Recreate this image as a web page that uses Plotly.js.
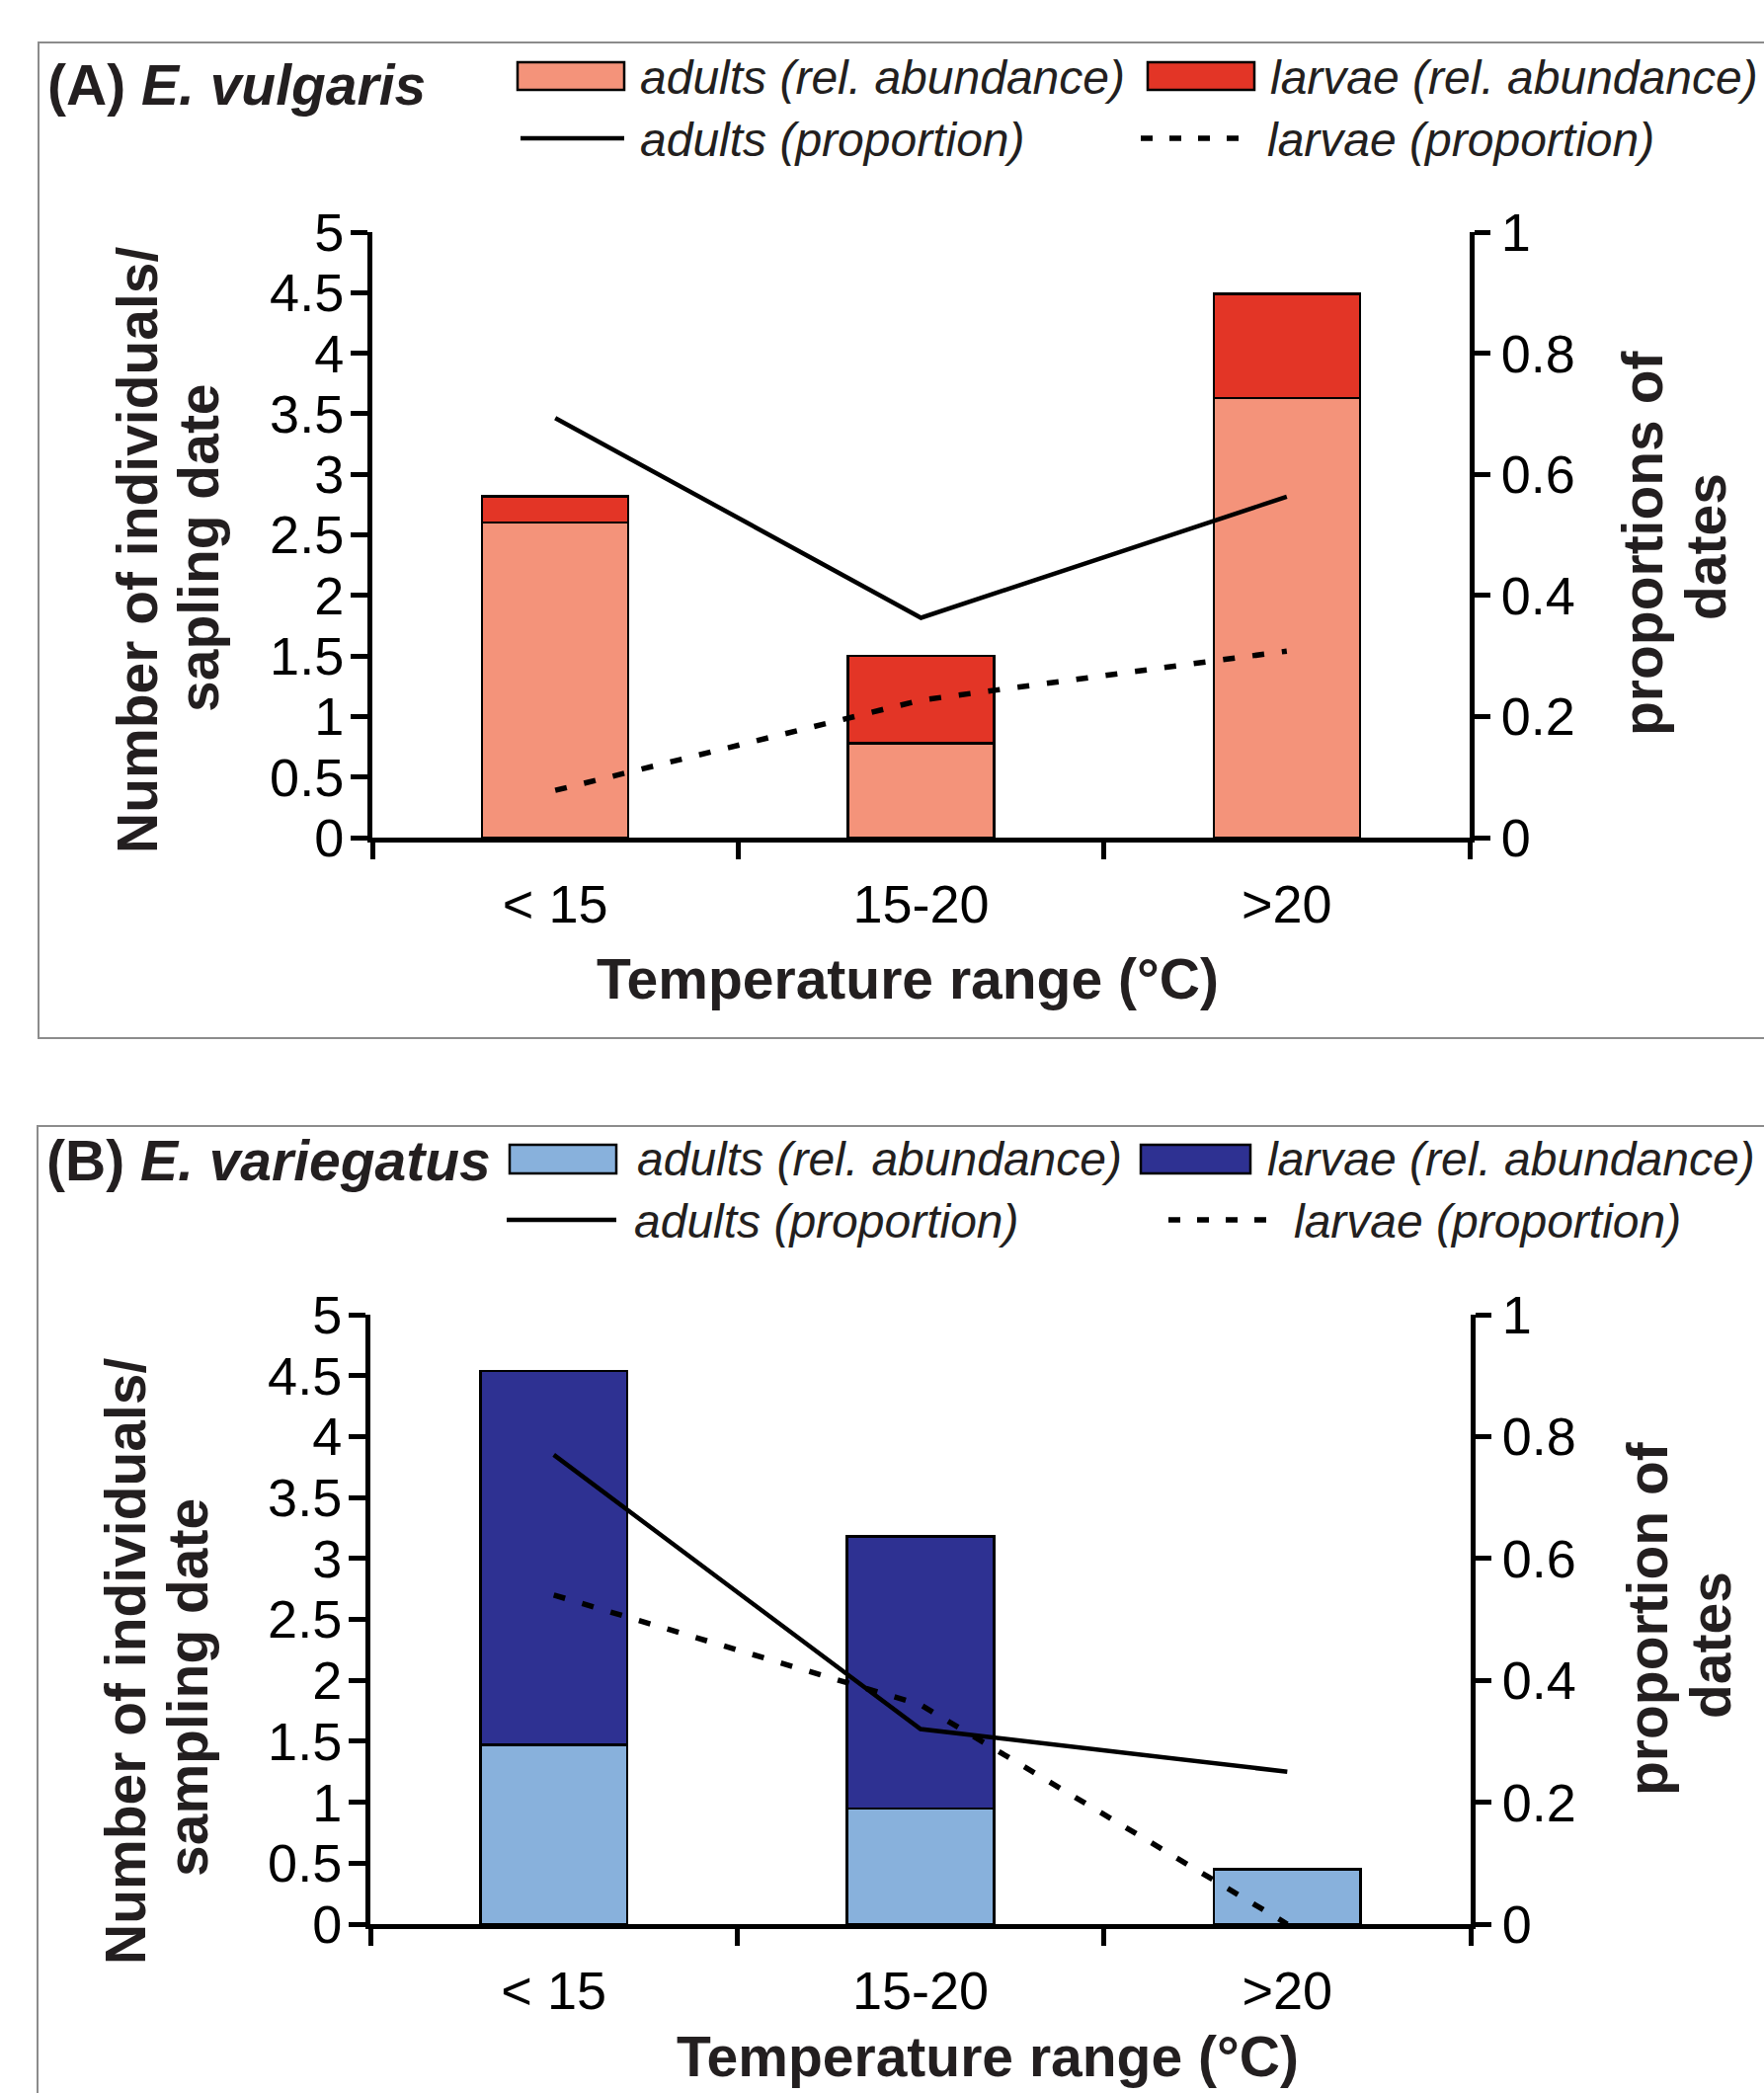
<!DOCTYPE html>
<html>
<head>
<meta charset="utf-8">
<script src="https://cdn.plot.ly/plotly-3.0.1.min.js"></script>
<style>html,body{margin:0;padding:0;background:#fff;}#chart{width:1786px;height:2119px;}</style>
</head>
<body>
<div id="chart"></div>
<script>
// ---- data ----
var categories = ['< 15', '15-20', '>20'];
var vulgarisAdultsAbund = [2.60, 0.78, 3.63];
var vulgarisLarvaeAbund = [0.22, 0.72, 0.86];
var vulgarisAdultsProp = [0.693, 0.363, 0.563];
var vulgarisLarvaeProp = [0.078, 0.227, 0.308];

var variegatusAdultsAbund = [1.47, 0.95, 0.45];
var variegatusLarvaeAbund = [3.07, 2.23, 0];
var variegatusAdultsProp = [0.77, 0.32, 0.25];
var variegatusLarvaeProp = [0.54, 0.36, 0.0];

var leftTicks = [0, 0.5, 1, 1.5, 2, 2.5, 3, 3.5, 4, 4.5, 5];
var rightTicks = [0, 0.2, 0.4, 0.6, 0.8, 1];

var colA_ad = '#F4937A', colA_lv = '#E33526';
var colB_ad = '#88B1DC', colB_lv = '#2E3192';

// ---- page geometry helpers (pixels -> paper) ----
var W = 1786, H = 2119;
function px(x) { return x / W; }
function py(y) { return 1 - y / H; }

var FONT = 'Liberation Sans, Arial, sans-serif';
var TXT = '#231F20';

function barTrace(y, color, xa, ya, name) {
  return {type: 'bar', x: categories, y: y, name: name, xaxis: xa, yaxis: ya,
    marker: {color: color, line: {color: '#000', width: 2.5}}, showlegend: false, hoverinfo: 'y'};
}
function lineTrace(y, dash, xa, ya, name) {
  return {type: 'scatter', mode: 'lines', x: categories, y: y, name: name, xaxis: xa, yaxis: ya,
    line: {color: '#000', width: dash === 'solid' ? 4.5 : 5.5, dash: dash}, showlegend: false};
}

var DASH = '12px,18px';
var data = [
  barTrace(vulgarisAdultsAbund, colA_ad, 'x', 'y', 'adults (rel. abundance)'),
  barTrace(vulgarisLarvaeAbund, colA_lv, 'x', 'y', 'larvae (rel. abundance)'),
  barTrace(variegatusAdultsAbund, colB_ad, 'x2', 'y2', 'adults (rel. abundance)'),
  barTrace(variegatusLarvaeAbund, colB_lv, 'x2', 'y2', 'larvae (rel. abundance)'),
  lineTrace(vulgarisAdultsProp, 'solid', 'x', 'y3', 'adults (proportion)'),
  lineTrace(vulgarisLarvaeProp, DASH, 'x', 'y3', 'larvae (proportion)'),
  lineTrace(variegatusAdultsProp, 'solid', 'x2', 'y4', 'adults (proportion)'),
  lineTrace(variegatusLarvaeProp, DASH, 'x2', 'y4', 'larvae (proportion)')
];

var tickFont = {family: FONT, size: 54, color: '#000'};
function xAxis(dom, anchor) {
  return {domain: dom, anchor: anchor, type: 'category', range: [-0.5, 2.5],
    showline: true, linecolor: '#000', linewidth: 5, ticks: 'outside', tickson: 'boundaries',
    ticklen: 17, tickwidth: 5, tickcolor: '#000', tickfont: tickFont, ticklabelstandoff: 16,
    showgrid: false, zeroline: false, fixedrange: true};
}
function yLeft(dom, anchor) {
  return {domain: dom, anchor: anchor, range: [0, 5], tickvals: leftTicks, showline: true, linecolor: '#000', linewidth: 5,
    ticks: 'outside', ticklen: 17, tickwidth: 5, tickcolor: '#000', tickfont: tickFont, ticklabelstandoff: -4,
    showgrid: false, zeroline: false, fixedrange: true};
}
function yRight(dom, anchor, over) {
  return {domain: dom, anchor: anchor, overlaying: over, side: 'right', range: [0, 1], tickvals: rightTicks,
    showline: true, linecolor: '#000', linewidth: 5, ticks: 'outside', ticklen: 16, tickwidth: 5, tickcolor: '#000',
    tickfont: tickFont, showgrid: false, zeroline: false, fixedrange: true};
}

var domA_y = [py(848), py(235)];
var domB_y = [py(1948), py(1331)];

var layout = {
  width: W, height: H, margin: {l: 0, r: 0, t: 0, b: 0}, paper_bgcolor: '#fff', plot_bgcolor: 'rgba(0,0,0,0)',
  showlegend: false, barmode: 'stack', bargap: 0.6,
  font: {family: FONT, color: TXT},
  xaxis: xAxis([px(377), px(1488)], 'y'),
  yaxis: yLeft(domA_y, 'x'),
  yaxis3: yRight(domA_y, 'x', 'y'),
  xaxis2: xAxis([px(375), px(1489)], 'y2'),
  yaxis2: yLeft(domB_y, 'x2'),
  yaxis4: yRight(domB_y, 'x2', 'y2'),
  shapes: [],
  annotations: []
};

function ann(text, x, y, size, opts) {
  var a = {text: text, xref: 'paper', yref: 'paper', x: px(x), y: py(y), showarrow: false,
    font: {family: FONT, size: size, color: TXT}, xanchor: 'center', yanchor: 'middle'};
  for (var k in opts) a[k] = opts[k];
  layout.annotations.push(a);
}
function rectShape(x0, y0, x1, y1, fill, lw, lc) {
  layout.shapes.push({type: 'rect', xref: 'paper', yref: 'paper', x0: px(x0), x1: px(x1), y0: py(y0), y1: py(y1),
    fillcolor: fill, line: {color: lc, width: lw}, layer: 'above'});
}
function lineShape(x0, x1, y, dash, w) {
  layout.shapes.push({type: 'line', xref: 'paper', yref: 'paper', x0: px(x0), x1: px(x1), y0: py(y), y1: py(y),
    line: {color: '#000', width: w, dash: dash}, layer: 'above'});
}

// frames
rectShape(39, 43, 1830, 1051, 'rgba(0,0,0,0)', 2, '#8C8C8C');
rectShape(38, 1140, 1830, 2160, 'rgba(0,0,0,0)', 2, '#8C8C8C');

// panel titles
ann('<b>(A) <i>E. vulgaris</i></b>', 46, 86, 57, {xanchor: 'left'});
ann('<b>(B) <i>E. variegatus</i></b>', 45, 1175, 57, {xanchor: 'left'});

var LF = 48;
// legend A
rectShape(524, 63, 632, 91, colA_ad, 2.5, '#000');
ann('<i>adults (rel. abundance)</i>', 646, 78, LF, {xanchor: 'left'});
rectShape(1162, 63, 1270, 91, colA_lv, 2.5, '#000');
ann('<i>larvae (rel. abundance)</i>', 1284, 78, LF, {xanchor: 'left'});
lineShape(527, 632, 140, 'solid', 4.5);
ann('<i>adults (proportion)</i>', 646, 141, LF, {xanchor: 'left'});
lineShape(1155, 1270, 140, '12px,17px', 5.5);
ann('<i>larvae (proportion)</i>', 1281, 141, LF, {xanchor: 'left'});

// legend B
rectShape(516, 1159, 624, 1188, colB_ad, 2.5, '#000');
ann('<i>adults (rel. abundance)</i>', 643, 1173, LF, {xanchor: 'left'});
rectShape(1155, 1159, 1266, 1188, colB_lv, 2.5, '#000');
ann('<i>larvae (rel. abundance)</i>', 1281, 1173, LF, {xanchor: 'left'});
lineShape(513, 624, 1235, 'solid', 4.5);
ann('<i>adults (proportion)</i>', 640, 1236, LF, {xanchor: 'left'});
lineShape(1183, 1294, 1235, '12px,17px', 5.5);
ann('<i>larvae (proportion)</i>', 1308, 1236, LF, {xanchor: 'left'});

// axis titles A
ann('<b>Number of individuals/</b>', 139, 557, 57, {textangle: -90});
ann('<b>sapling date</b>', 201, 555, 57, {textangle: -90});
ann('<b>proportions of</b>', 1663, 550, 57, {textangle: -90});
ann('<b>dates</b>', 1727, 554, 57, {textangle: -90});
ann('<b>Temperature range (°C)</b>', 919, 991, 57, {});

// axis titles B
ann('<b>Number of individuals/</b>', 127, 1682, 57, {textangle: -90});
ann('<b>sampling date</b>', 190, 1709, 57, {textangle: -90});
ann('<b>proportion of</b>', 1668, 1639, 57, {textangle: -90});
ann('<b>dates</b>', 1732, 1666, 57, {textangle: -90});
ann('<b>Temperature range (°C)</b>', 1000, 2082, 57, {});

Plotly.newPlot('chart', data, layout, {staticPlot: true, displayModeBar: false});
</script>
</body>
</html>
